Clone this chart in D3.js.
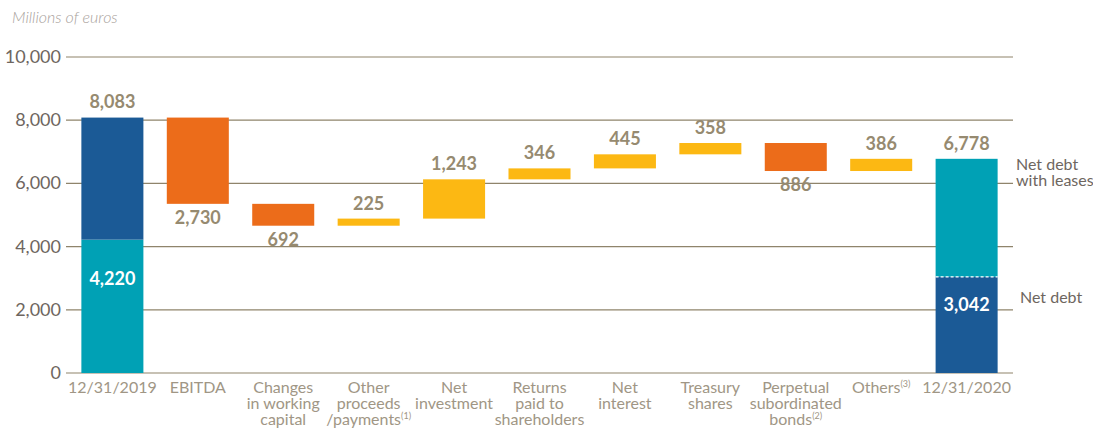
<!DOCTYPE html>
<html>
<head>
<meta charset="utf-8">
<script src="https://cdn.jsdelivr.net/npm/d3@7"></script>
<style>
  body { margin: 0; background: #fff; }
  text { font-family: Lato, "Open Sans", sans-serif; }
</style>
</head>
<body>
<div id="chart"></div>
<script>
// Chart data
var categories = ["12/31/2019", "EBITDA", "Changes in working capital", "Other proceeds /payments",
  "Net investment", "Returns paid to shareholders", "Net interest", "Treasury shares",
  "Perpetual subordinated bonds", "Others", "12/31/2020"];
var categoryLines = [["12/31/2019"], ["EBITDA"], ["Changes", "in working", "capital"],
  ["Other", "proceeds", "/payments|(1)"], ["Net", "investment"], ["Returns", "paid to", "shareholders"],
  ["Net", "interest"], ["Treasury", "shares"], ["Perpetual", "subordinated", "bonds|(2)"],
  ["Others|(3)"], ["12/31/2020"]];
// signed change for the middle steps (negative = debt reduction)
var changes = [null, -2730, -692, 225, 1243, 346, 445, 358, -886, 386, null];
var startTotal = 8083;
var startNetDebt = 4220;
var endTotal = 6778;
var endNetDebt = 3042;
var yTicks = [0, 2000, 4000, 6000, 8000, 10000];

var svgWidth = 1093;
var svgHeight = 432;

var colors = {
  navy: "#1b5a96",
  teal: "#00a1b5",
  orange: "#ec6c1a",
  yellow: "#fcb813",
  grid: "#8f846b",
  value: "#968a70",
  tick: "#6e6660",
  cat: "#a09685"
};

var svg = d3.select("#chart")
  .append("svg")
  .attr("width", svgWidth)
  .attr("height", svgHeight);

var x = d3.scaleBand()
  .domain(categories)
  .range([66, 1013])
  .paddingInner(0.274)
  .paddingOuter(0.18);

var y = d3.scaleLinear()
  .domain([0, 10000])
  .range([373, 57]);

// unit label
svg.append("text")
  .attr("x", 12)
  .attr("y", 23)
  .attr("font-size", 16)
  .attr("font-style", "italic")
  .attr("font-weight", 300)
  .attr("fill", "#a9a29c")
  .text("Millions of euros");

// gridlines and tick labels
var grid = svg.append("g");
yTicks.forEach(function(t) {
  grid.append("line")
    .attr("x1", 66).attr("x2", 1013)
    .attr("y1", y(t)).attr("y2", y(t))
    .attr("stroke", colors.grid)
    .attr("stroke-width", 1.2);
  grid.append("text")
    .attr("x", 61)
    .attr("y", y(t) + 6)
    .attr("text-anchor", "end")
    .attr("font-size", 18)
    .attr("fill", colors.tick)
    .text(d3.format(",")(t));
});

// build waterfall segments
var steps = [];
var running = startTotal;
changes.forEach(function(c, i) {
  if (c === null) return;
  var from = running;
  running = running + c;
  steps.push({ cat: categories[i], from: from, to: running, value: c });
});

var bars = svg.append("g");
var w = x.bandwidth();

// start stacked bar
var c0 = categories[0];
bars.append("rect").attr("x", x(c0)).attr("width", w)
  .attr("y", y(startNetDebt)).attr("height", y(0) - y(startNetDebt)).attr("fill", colors.teal);
bars.append("rect").attr("x", x(c0)).attr("width", w)
  .attr("y", y(startTotal)).attr("height", y(startNetDebt) - y(startTotal)).attr("fill", colors.navy);

// end stacked bar
var cN = categories[categories.length - 1];
bars.append("rect").attr("x", x(cN)).attr("width", w)
  .attr("y", y(endNetDebt)).attr("height", y(0) - y(endNetDebt)).attr("fill", colors.navy);
bars.append("rect").attr("x", x(cN)).attr("width", w)
  .attr("y", y(endTotal)).attr("height", y(endNetDebt) - y(endTotal)).attr("fill", colors.teal);
bars.append("line")
  .attr("x1", x(cN)).attr("x2", x(cN) + w)
  .attr("y1", y(endNetDebt)).attr("y2", y(endNetDebt))
  .attr("stroke", "#fff").attr("stroke-width", 1.2).attr("stroke-dasharray", "3,2");

// step bars
bars.selectAll(".step")
  .data(steps)
  .enter()
  .append("rect")
  .attr("x", d => x(d.cat))
  .attr("width", w)
  .attr("y", d => y(Math.max(d.from, d.to)))
  .attr("height", d => Math.abs(y(d.from) - y(d.to)))
  .attr("fill", d => d.value < 0 ? colors.orange : colors.yellow);

// value labels
var fmt = d3.format(",");
var labels = svg.append("g")
  .attr("font-size", 18)
  .attr("font-weight", "bold")
  .attr("text-anchor", "middle");

labels.selectAll(".val")
  .data(steps)
  .enter()
  .append("text")
  .attr("x", d => x(d.cat) + w / 2)
  .attr("y", d => d.value < 0 ? y(Math.min(d.from, d.to)) + 20 : y(Math.max(d.from, d.to)) - 9)
  .attr("fill", colors.value)
  .text(d => fmt(Math.abs(d.value)));

labels.append("text").attr("x", x(c0) + w / 2).attr("y", y(startTotal) - 10)
  .attr("fill", colors.value).text(fmt(startTotal));
labels.append("text").attr("x", x(c0) + w / 2).attr("y", y(startNetDebt) + 45)
  .attr("fill", "#fff").text(fmt(startNetDebt));
labels.append("text").attr("x", x(cN) + w / 2).attr("y", y(endTotal) - 9)
  .attr("fill", colors.value).text(fmt(endTotal));
labels.append("text").attr("x", x(cN) + w / 2).attr("y", y(endNetDebt) + 34)
  .attr("fill", "#fff").text(fmt(endNetDebt));

// category labels
var catG = svg.append("g")
  .attr("font-size", 16)
  .attr("fill", colors.cat)
  .attr("text-anchor", "middle");

categories.forEach(function(c, i) {
  var t = catG.append("text")
    .attr("x", x(c) + w / 2)
    .attr("y", 393);
  categoryLines[i].forEach(function(line, j) {
    var parts = line.split("|");
    t.append("tspan")
      .attr("x", x(c) + w / 2)
      .attr("dy", j === 0 ? 0 : 16)
      .text(parts[0]);
    if (parts[1]) {
      t.append("tspan")
        .attr("font-size", 9)
        .attr("dy", -6)
        .text(parts[1]);
      t.append("tspan").attr("dy", 6).text("");
    }
  });
});

// right side series labels
var side = svg.append("g")
  .attr("font-size", 16)
  .attr("fill", colors.tick);
side.append("text").attr("x", 1016).attr("y", y(endTotal) + 11).text("Net debt");
side.append("text").attr("x", 1016).attr("y", y(endTotal) + 27).text("with leases");
side.append("text").attr("x", 1020).attr("y", y(endNetDebt) + 26).text("Net debt");
</script>
</body>
</html>
